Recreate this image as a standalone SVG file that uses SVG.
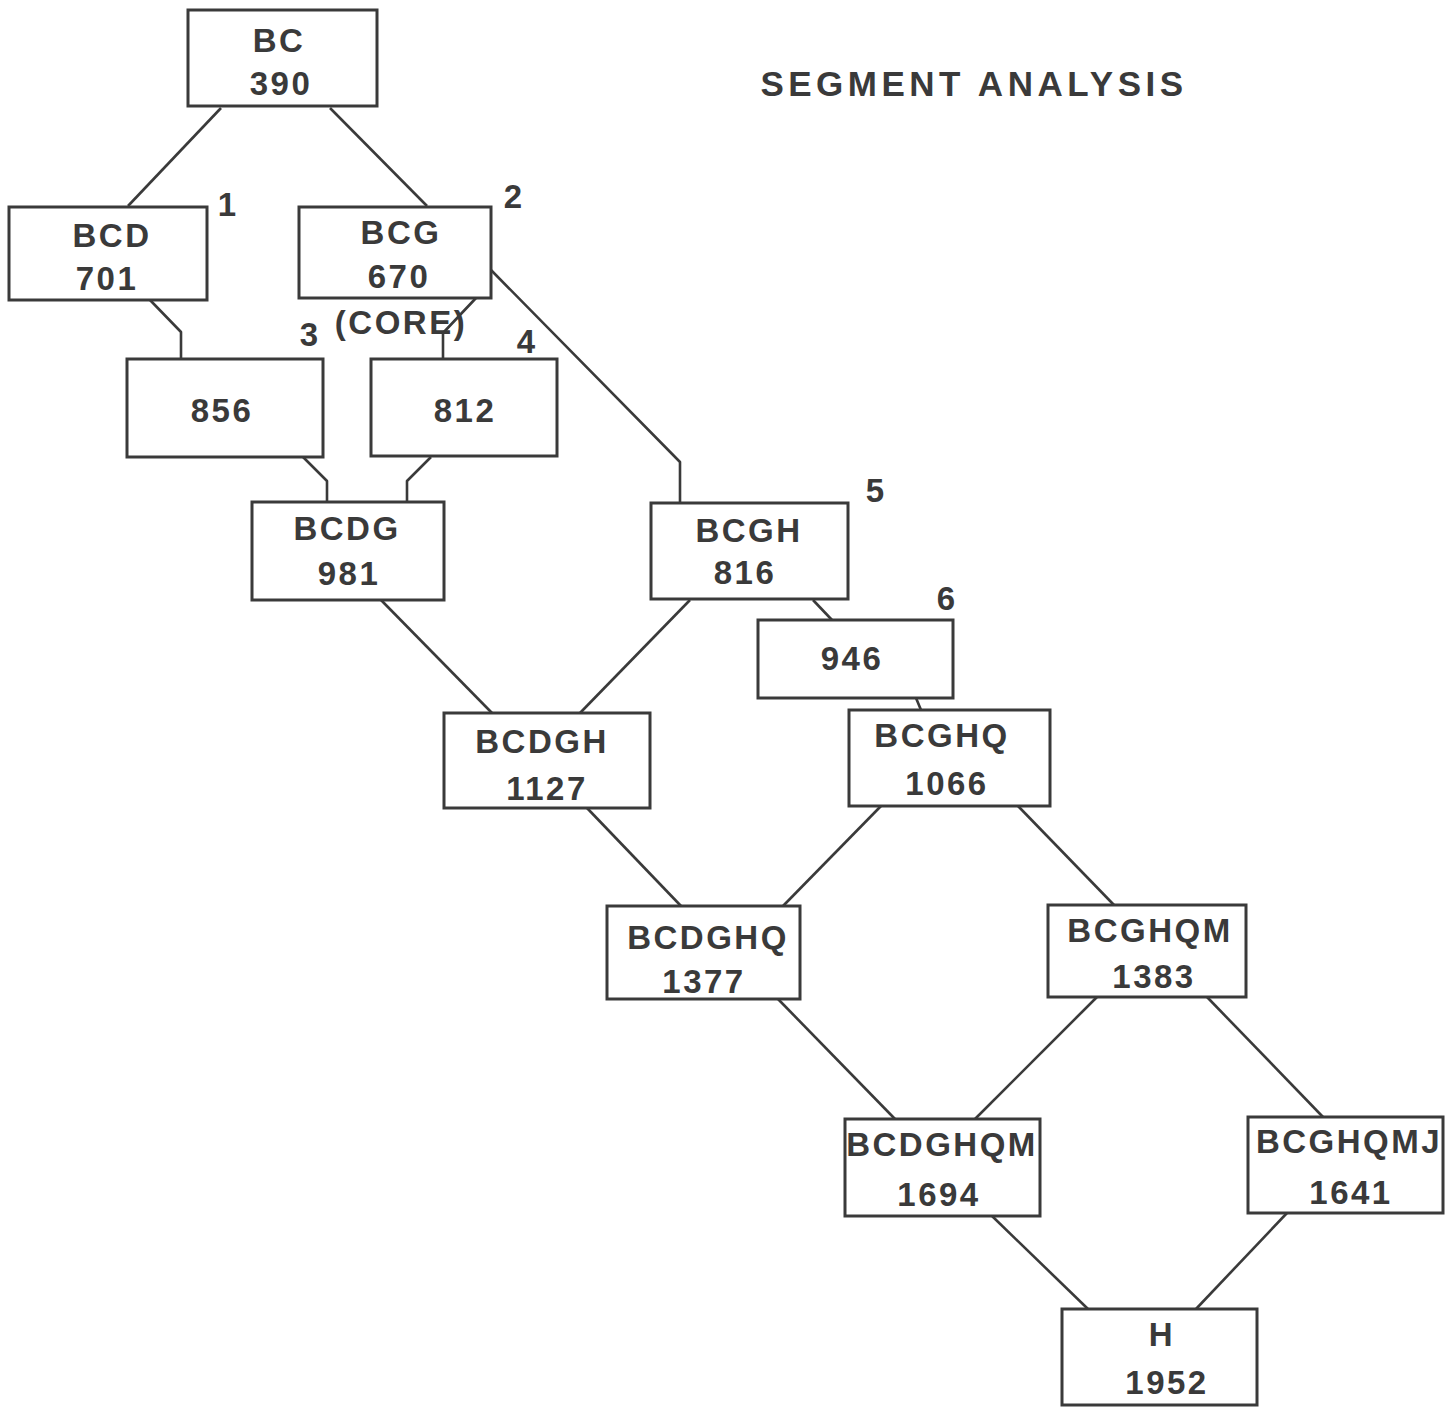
<svg xmlns="http://www.w3.org/2000/svg" width="1452" height="1407" viewBox="0 0 1452 1407">
<style>
.box{fill:none;stroke:#3a3a3a;stroke-width:3}
.c{fill:none;stroke:#3a3a3a;stroke-width:2.6;stroke-linejoin:round}
text{font-family:"Liberation Sans",Arial,sans-serif;font-weight:bold;font-size:33px;fill:#3a3a3a;letter-spacing:2.5px;text-anchor:middle}
.num{letter-spacing:0}
.title{font-size:35px;letter-spacing:4.5px}
</style>
<rect width="1452" height="1407" fill="#ffffff"/>
<text class="title" x="974" y="96">SEGMENT ANALYSIS</text>
<g id="connectors">
<polyline class="c" points="221,108 128,206"/>
<polyline class="c" points="330,108 427,206"/>
<polyline class="c" points="150,300 181,332 181,359"/>
<polyline class="c" points="476,298 443,333 443,359"/>
<polyline class="c" points="491,270 680,462 680,503"/>
<polyline class="c" points="303,457 327,481 327,502"/>
<polyline class="c" points="431,457 407,481 407,502"/>
<polyline class="c" points="381,600 492,713"/>
<polyline class="c" points="690,600 580,713"/>
<polyline class="c" points="813,600 832,620"/>
<polyline class="c" points="916,698 921,710"/>
<polyline class="c" points="587,808 681,906"/>
<polyline class="c" points="881,806 783,906"/>
<polyline class="c" points="1018,806 1114,905"/>
<polyline class="c" points="778,999 895,1119"/>
<polyline class="c" points="1097,997 975,1119"/>
<polyline class="c" points="1207,997 1323,1117"/>
<polyline class="c" points="992,1216 1088,1309"/>
<polyline class="c" points="1287,1213 1196,1309"/>
</g>
<g id="n-BC"><rect class="box" x="188" y="10" width="189" height="96"/><text x="279" y="52">BC</text><text x="281" y="95">390</text></g>
<g id="n-BCD"><rect class="box" x="9" y="207" width="198" height="93"/><text x="112" y="247">BCD</text><text x="107" y="290">701</text><text class="num" x="227" y="216">1</text></g>
<g id="n-BCG"><rect class="box" x="299" y="207" width="192" height="91"/><text x="401" y="244">BCG</text><text x="399" y="288">670</text><text x="401" y="334">(CORE)</text><text class="num" x="513" y="208">2</text></g>
<g id="n-856"><rect class="box" x="127" y="359" width="196" height="98"/><text x="222" y="422">856</text><text class="num" x="309" y="346">3</text></g>
<g id="n-812"><rect class="box" x="371" y="359" width="186" height="97"/><text x="465" y="422">812</text><text class="num" x="526" y="353">4</text></g>
<g id="n-BCDG"><rect class="box" x="252" y="502" width="192" height="98"/><text x="347" y="540">BCDG</text><text x="349" y="585">981</text></g>
<g id="n-BCGH"><rect class="box" x="651" y="503" width="197" height="96"/><text x="749" y="542">BCGH</text><text x="745" y="584">816</text><text class="num" x="875" y="502">5</text></g>
<g id="n-946"><rect class="box" x="758" y="620" width="195" height="78"/><text x="852" y="670">946</text><text class="num" x="946" y="610">6</text></g>
<g id="n-BCDGH"><rect class="box" x="444" y="713" width="206" height="95"/><text x="542" y="753">BCDGH</text><text x="547" y="800">1127</text></g>
<g id="n-BCGHQ"><rect class="box" x="849" y="710" width="201" height="96"/><text x="942" y="747">BCGHQ</text><text x="947" y="795">1066</text></g>
<g id="n-BCDGHQ"><rect class="box" x="607" y="906" width="193" height="93"/><text x="708" y="949">BCDGHQ</text><text x="704" y="993">1377</text></g>
<g id="n-BCGHQM"><rect class="box" x="1048" y="905" width="198" height="92"/><text x="1150" y="942">BCGHQM</text><text x="1154" y="988">1383</text></g>
<g id="n-BCDGHQM"><rect class="box" x="845" y="1119" width="195" height="97"/><text x="942" y="1156">BCDGHQM</text><text x="939" y="1206">1694</text></g>
<g id="n-BCGHQMJ"><rect class="box" x="1248" y="1117" width="195" height="96"/><text x="1349" y="1153">BCGHQMJ</text><text x="1351" y="1204">1641</text></g>
<g id="n-H"><rect class="box" x="1062" y="1309" width="195" height="96"/><text x="1162" y="1346">H</text><text x="1167" y="1394">1952</text></g>
</svg>
